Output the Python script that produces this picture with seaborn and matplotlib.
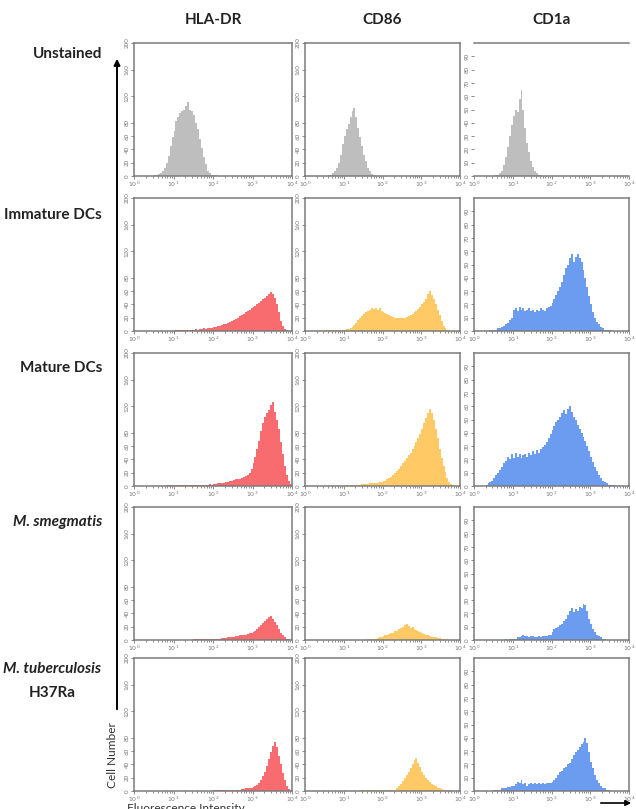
import numpy as np
import pandas as pd
import matplotlib
matplotlib.use("Agg")
import matplotlib.pyplot as plt
import seaborn as sns

# --- data: counts per 0.05-decade bin, x0 = log10 centre of first bin ---
markers = ["HLA-DR", "CD86", "CD1a"]
conditions = ["Unstained", "Immature DCs", "Mature DCs", "M. smegmatis", "M. tuberculosis"]
bin_w = 0.05

hla_unst_x0 = 0.525
hla_unst = [1, 2, 3, 5, 8, 12, 20, 30, 45, 58, 68, 82, 88, 95, 97, 100, 105, 112,
            100, 98, 92, 80, 70, 55, 42, 28, 18, 8, 4, 2, 1, 1]
cd86_unst_x0 = 0.625
cd86_unst = [1, 2, 4, 8, 12, 20, 32, 48, 60, 70, 78, 88, 97, 103, 88, 72, 58, 45,
             32, 22, 12, 7, 3, 1]
cd1a_unst_x0 = 0.575
cd1a_unst = [1, 1, 2, 4, 8, 14, 22, 30, 38, 45, 50, 48, 58, 65, 50, 36, 25, 18,
             11, 7, 4, 2, 1, 1]

hla_imm_x0 = 1.025
hla_imm = [1, 1, 1, 2, 1, 2, 1, 2, 2, 2,
           2, 3, 2, 3, 3, 4, 3, 4, 5, 5,
           6, 6, 7, 8, 9, 10, 11, 12, 14, 15,
           17, 18, 20, 22, 24, 26, 28, 30, 32, 34,
           36, 38, 40, 42, 45, 48, 50, 53, 56, 58,
           55, 50, 40, 28, 15, 7, 3, 1]
cd86_imm_x0 = 0.525
cd86_imm = [1, 1, 1, 1, 1, 1, 2, 2, 2, 2,
            2, 3, 3, 4, 6, 9, 12, 16, 20, 23,
            26, 28, 30, 32, 34, 33, 35, 32, 34, 30,
            29, 27, 25, 24, 22, 21, 20, 19, 20, 19,
            19, 20, 21, 22, 24, 26, 28, 30, 33, 36,
            40, 44, 48, 55, 60, 54, 48, 40, 32, 24,
            15, 8, 4, 2, 1]
cd1a_imm_x0 = 0.425
cd1a_imm = [1, 1, 1, 1, 2, 2, 3, 4, 5, 6,
            8, 10, 16, 17, 15, 18, 16, 17, 15, 16,
            17, 15, 16, 14, 16, 15, 17, 16, 15, 17,
            18, 19, 21, 24, 27, 30, 33, 37, 42, 47,
            50, 55, 58, 52, 56, 58, 55, 52, 46, 40,
            33, 26, 20, 14, 10, 7, 5, 3, 2, 1,
            1, 1, 1]

hla_mat_x0 = 0.825
hla_mat = [1, 1, 1, 1, 1, 1, 1, 1, 1, 1,
           1, 1, 1, 1, 2, 1, 2, 1, 2, 2,
           2, 2, 3, 2, 3, 3, 4, 4, 5, 5,
           6, 6, 7, 8, 9, 10, 10, 11, 12, 13,
           15, 17, 20, 26, 34, 44, 56, 68, 82, 94,
           104, 110, 114, 122, 126, 112, 100, 86, 66, 48,
           30, 17, 7, 3, 1]
cd86_mat_x0 = 1.025
cd86_mat = [1, 1, 1, 1, 2, 2, 2, 2, 2, 3,
            3, 3, 3, 4, 4, 4, 5, 5, 6, 6,
            7, 8, 10, 12, 14, 16, 19, 22, 26, 30,
            34, 38, 42, 46, 50, 55, 60, 66, 72, 78,
            86, 94, 102, 110, 116, 110, 100, 86, 72, 56,
            42, 30, 21, 12, 6, 3, 1]
cd1a_mat_x0 = 0.325
cd1a_mat = [1, 2, 3, 4, 6, 8, 10, 12, 14, 17,
            19, 22, 20, 24, 21, 25, 22, 24, 21, 23,
            24, 22, 25, 23, 26, 24, 27, 25, 28, 29,
            31, 33, 36, 39, 42, 45, 48, 50, 52, 55,
            57, 54, 58, 60, 56, 52, 50, 46, 43, 40,
            37, 34, 30, 26, 22, 18, 14, 11, 8, 6,
            4, 3, 2, 1, 1, 1, 1]

hla_smeg_x0 = 1.525
hla_smeg = [1, 1, 1, 1, 1, 1, 1, 1, 2, 1,
            2, 2, 2, 2, 3, 3, 3, 4, 4, 5,
            5, 6, 6, 7, 7, 8, 8, 9, 10, 11,
            12, 14, 16, 19, 22, 26, 29, 32, 35, 36,
            32, 27, 22, 16, 11, 7, 4, 2, 1]
cd86_smeg_x0 = 1.625
cd86_smeg = [1, 1, 1, 2, 2, 3, 4, 5, 6, 7,
             8, 9, 10, 11, 13, 14, 16, 18, 20, 22,
             24, 21, 18, 20, 17, 15, 13, 12, 10, 9,
             8, 7, 6, 5, 5, 4, 3, 3, 2, 2,
             1, 1]
cd1a_smeg_x0 = 0.825
cd1a_smeg = [1, 0, 1, 1, 1, 1, 2, 2, 3, 4,
             3, 3, 2, 3, 3, 2, 2, 3, 2, 3,
             3, 3, 4, 4, 6, 8, 9, 10, 11, 12,
             14, 16, 19, 22, 24, 21, 23, 22, 25, 24,
             27, 26, 22, 16, 12, 8, 6, 4, 3, 2,
             1, 1]

hla_mtb_x0 = 2.025
hla_mtb = [1, 1, 1, 1, 1, 1, 1, 1, 1, 2,
           1, 2, 2, 2, 3, 3, 5, 4, 4, 5,
           6, 7, 9, 12, 16, 22, 28, 38, 48, 58,
           68, 74, 66, 52, 40, 27, 16, 8, 3, 1]
cd86_mtb_x0 = 1.425
cd86_mtb = [1, 1, 1, 1, 1, 1, 1, 1, 1, 1,
            1, 1, 1, 1, 1, 1, 1, 2, 2, 4,
            8, 11, 15, 19, 24, 28, 34, 40, 46, 50,
            42, 36, 29, 24, 20, 17, 14, 11, 9, 7,
            5, 4, 3, 2, 2, 1, 1, 1]
cd1a_mtb_x0 = 0.525
cd1a_mtb = [1, 1, 1, 1, 2, 2, 2, 3, 3, 4,
            4, 5, 7, 6, 8, 5, 6, 4, 5, 6,
            5, 6, 5, 6, 5, 6, 5, 6, 6, 6,
            7, 8, 10, 12, 14, 15, 17, 18, 20, 21,
            24, 27, 29, 31, 33, 35, 37, 40, 36, 29,
            22, 17, 12, 8, 6, 4, 2, 2, 1, 1]

panels = [
    [(hla_unst_x0, hla_unst), (cd86_unst_x0, cd86_unst), (cd1a_unst_x0, cd1a_unst)],
    [(hla_imm_x0, hla_imm), (cd86_imm_x0, cd86_imm), (cd1a_imm_x0, cd1a_imm)],
    [(hla_mat_x0, hla_mat), (cd86_mat_x0, cd86_mat), (cd1a_mat_x0, cd1a_mat)],
    [(hla_smeg_x0, hla_smeg), (cd86_smeg_x0, cd86_smeg), (cd1a_smeg_x0, cd1a_smeg)],
    [(hla_mtb_x0, hla_mtb), (cd86_mtb_x0, cd86_mtb), (cd1a_mtb_x0, cd1a_mtb)],
]

colors = ["#F86B6E", "#FFC966", "#6C9CEF"]
gray = "#BEBEBE"
yticks_200 = [0, 20, 40, 60, 80, 120, 160, 200]
yticks_100 = [0, 10, 20, 30, 40, 50, 60, 70, 80, 90]

sns.set_theme(style="white")
plt.rcParams["font.family"] = ["Lato", "DejaVu Sans"]

W, H = 636, 809
fig = plt.figure(figsize=(W / 100, H / 100), dpi=100)

col_left = [134, 305, 474]
col_width = [158, 155, 155]
row_top = [43, 198, 353, 507, 658]
row_h = 133

for r in range(5):
    for c in range(3):
        x0, counts = panels[r][c]
        centres = x0 + bin_w * np.arange(len(counts))
        df = pd.DataFrame({"fluor": 10 ** centres, "cells": counts})
        ax = fig.add_axes([col_left[c] / W, 1 - (row_top[r] + row_h) / H,
                           col_width[c] / W, row_h / H])
        sns.histplot(data=df, x="fluor", weights="cells", log_scale=True,
                     binwidth=bin_w, binrange=(0, 4), element="step", fill=True,
                     color=gray if r == 0 else colors[c], alpha=1, linewidth=0, ax=ax)
        ax.set_xlim(1, 1e4)
        if c < 2:
            ax.set_ylim(0, 200)
            ax.set_yticks(yticks_200)
        else:
            ax.set_ylim(0, 100)
            ax.set_yticks(yticks_100)
        ax.set_xticks([1, 10, 100, 1000, 10000])
        ax.set_xticklabels([f"$10^{k}$" for k in range(5)])
        ax.set_xlabel("")
        ax.set_ylabel("")
        ax.tick_params(axis="both", which="both", direction="out", length=2, width=0.6,
                       colors="#777777", labelsize=4.5, pad=1, bottom=True, left=True)
        ax.tick_params(axis="x", which="minor", length=1.2)
        for lab in ax.get_yticklabels():
            lab.set_rotation(90)
            lab.set_va("center")
        for sp in ax.spines.values():
            sp.set_color("#7A7A7A")
            sp.set_linewidth(1.1)
        if r == 0 and c == 2:
            ax.spines["left"].set_visible(False)
            ax.spines["right"].set_visible(False)

# annotation layer in pixel coords
ov = fig.add_axes([0, 0, 1, 1])
ov.set_xlim(0, W)
ov.set_ylim(H, 0)
ov.axis("off")

for c, m in enumerate(markers):
    ov.text(col_left[c] + col_width[c] / 2, 20, m, ha="center", va="center",
            fontsize=11, fontweight="bold", color="#222222")

label_y = [54, 215, 368, 522]
for r in range(4):
    ov.text(102, label_y[r], conditions[r], ha="right", va="center", fontsize=11,
            fontweight="bold", color="#222222", style="italic" if r == 3 else "normal")
ov.text(52, 669, conditions[4], ha="center", va="center", fontsize=11,
        fontweight="bold", style="italic", color="#222222")
ov.text(52, 693, "H37Ra", ha="center", va="center", fontsize=11,
        fontweight="bold", color="#222222")

ov.annotate("", xy=(117, 56), xytext=(117, 712),
            arrowprops=dict(arrowstyle="-|>", lw=1.4, color="black", mutation_scale=9))
ov.text(113, 755, "Cell Number", rotation=90, ha="center", va="center",
        fontsize=8.6, color="#333333")
ov.text(127, 803, "Fluorescence Intensity", ha="left", va="top",
        fontsize=8.6, color="#333333")
ov.annotate("", xy=(634, 803), xytext=(598, 803),
            arrowprops=dict(arrowstyle="-|>", lw=1.2, color="black", mutation_scale=8))

fig.savefig("out.png", dpi=100)
